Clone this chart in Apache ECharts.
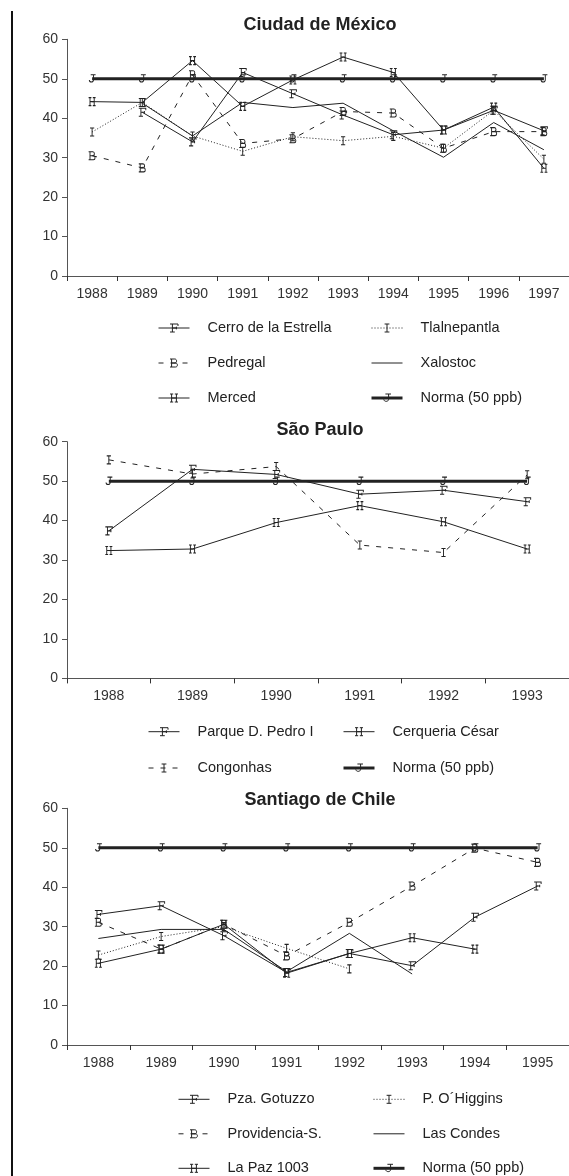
<!DOCTYPE html>
<html><head><meta charset="utf-8">
<script src="https://cdn.jsdelivr.net/npm/echarts@6/dist/echarts.min.js"></script>
<style>html,body{margin:0;padding:0;background:#fff}#c{width:569px;height:1176px}</style>
</head><body><div id="c"></div>
<script>
// ---------- data ----------
const titles = ['Ciudad de México', 'São Paulo', 'Santiago de Chile'];
const yearsMX = ['1988','1989','1990','1991','1992','1993','1994','1995','1996','1997'];
const yearsSP = ['1988','1989','1990','1991','1992','1993'];
const yearsSC = ['1988','1989','1990','1991','1992','1993','1994','1995'];
const yTicks = [0, 10, 20, 30, 40, 50, 60];

const mxCerro  = [null, 41.5, 34.0, 51.6, 46.2, 40.8, 35.8, 37.0, 42.0, 36.8];
const mxTlal   = [36.5, 44.0, 35.5, 31.6, 35.3, 34.3, 35.4, 32.4, 42.0, 29.6];
const mxPedr   = [30.5, 27.4, 51.0, 33.6, 34.8, 41.7, 41.3, 32.4, 36.6, 36.6];
const mxXalo   = [null, 43.8, 35.5, 44.0, 42.7, 43.8, 36.8, 30.1, 38.9, 32.0];
const mxMerced = [44.2, 44.0, 54.6, 43.0, 49.7, 55.5, 51.6, 37.0, 42.8, 27.3];
const mxNorma  = [50, 50, 50, 50, 50, 50, 50, 50, 50, 50];

const spParque = [37.4, 53.0, 51.7, 46.7, 47.7, 44.8];
const spCerq   = [32.4, 32.8, 39.5, 43.8, 39.7, 32.8];
const spCong   = [55.4, 51.8, 53.7, 33.8, 31.9, 51.6];
const spNorma  = [50, 50, 50, 50, 50, 50];

const scGotuzzo = [33.1, 35.3, 27.7, 18.4, 23.2, 20.1, 32.4, 40.3];
const scOHiggins = [22.8, 27.5, 30.0, 24.5, 19.3, null, null, null];
const scProv    = [31.1, 24.3, 30.6, 22.6, 31.1, 40.3, 49.9, 46.3];
const scCondes  = [27.0, 29.3, 29.3, 18.6, 28.3, 18.0, null, null];
const scLaPaz   = [20.7, 24.3, 30.6, 18.2, 23.2, 27.2, 24.3, null];
const scNorma   = [50, 50, 50, 50, 50, 50, 50, 50];

// ---------- letter markers ----------
const LET = {
  F: 'path://M0,0 M10,12 M0,0 L10,0 L10,3 M3,0 L3,12 M0,12 L6,12 M3,6 L8,6 M8,4 L8,8',
  H: 'path://M0,0 M10,12 M0,0 L4,0 M6,0 L10,0 M2,0 L2,12 M8,0 L8,12 M2,6 L8,6 M0,12 L4,12 M6,12 L10,12',
  I: 'path://M0,0 M10,12 M2,0 L8,0 M5,0 L5,12 M2,12 L8,12',
  B: 'path://M0,0 M10,12 M0,0 L6,0 C9,0 9,6 6,6 M2,6 L7,6 C10,6 10,12 7,12 L0,12 M2,0 L2,12',
  J: 'path://M0,0 M10,12 M3,0 L10,0 M7,0 L7,8 C7,12 1,12 1,8'
};
const FONT = "'Liberation Sans', Arial, sans-serif";
const INK = '#222';
const DASH = [5, 7];
const DOT = [1, 2];

function ser(name, data, g, letter, type, width, z) {
  return {
    type: 'line', name, data, xAxisIndex: g, yAxisIndex: g,
    symbol: LET[letter || 'I'], showSymbol: !!letter, symbolSize: [7, 8],
    itemStyle: { color: 'rgba(0,0,0,0)', borderColor: letter ? INK : 'rgba(0,0,0,0)', borderWidth: 1 },
    lineStyle: { color: INK, width: width, type: type },
    connectNulls: false, silent: true, animation: false, z: z || 2,
    emphasis: { disabled: true }
  };
}

const series = [
  ser('Norma (50 ppb)', mxNorma, 0, 'J', 'solid', 3, 1),
  ser('Cerro de la Estrella', mxCerro, 0, 'F', 'solid', 1),
  ser('Tlalnepantla', mxTlal, 0, 'I', DOT, 1),
  ser('Pedregal', mxPedr, 0, 'B', DASH, 1),
  ser('Xalostoc', mxXalo, 0, null, 'solid', 1),
  ser('Merced', mxMerced, 0, 'H', 'solid', 1),

  ser('Norma (50 ppb)', spNorma, 1, 'J', 'solid', 3, 1),
  ser('Parque D. Pedro I', spParque, 1, 'F', 'solid', 1),
  ser('Cerqueria César', spCerq, 1, 'H', 'solid', 1),
  ser('Congonhas', spCong, 1, 'I', DASH, 1),

  ser('Norma (50 ppb)', scNorma, 2, 'J', 'solid', 3, 1),
  ser('Pza. Gotuzzo', scGotuzzo, 2, 'F', 'solid', 1),
  ser('P. O´Higgins', scOHiggins, 2, 'I', DOT, 1),
  ser('Providencia-S.', scProv, 2, 'B', DASH, 1),
  ser('Las Condes', scCondes, 2, null, 'solid', 1),
  ser('La Paz 1003', scLaPaz, 2, 'H', 'solid', 1)
];

const gridTops = [39.3, 441.7, 808.3];
const grids = gridTops.map(t => ({ left: 67, top: t, width: 507, height: 236.7, containLabel: false }));
const cats = [yearsMX, yearsSP, yearsSC];

const xAxes = cats.map((c, i) => ({
  type: 'category', gridIndex: i, data: c, boundaryGap: true,
  axisLine: { lineStyle: { color: '#555', width: 1 } },
  axisTick: { show: true, length: 5, lineStyle: { color: '#333' } },
  axisLabel: { fontSize: 14, color: '#333', margin: 11, fontFamily: FONT }
}));
const yAxes = cats.map((c, i) => ({
  type: 'value', gridIndex: i, min: yTicks[0], max: yTicks[yTicks.length - 1], interval: 10,
  axisLine: { show: true, lineStyle: { color: '#555', width: 1 } },
  axisTick: { show: true, length: 5, lineStyle: { color: '#555' } },
  splitLine: { show: false },
  axisLabel: { fontSize: 14, color: '#333', margin: 9, fontFamily: FONT }
}));

const titleTops = [16, 421, 791];
const title = titles.map((t, i) => ({
  text: t, left: 320, top: titleTops[i], textAlign: 'center', padding: 0,
  textStyle: { fontSize: 18, fontWeight: 'bold', color: '#222', fontFamily: FONT }
}));

function leg(names, left, top, gap) {
  return {
    orient: 'vertical', left: left, top: top, height: 160, padding: 0, itemGap: gap,
    itemWidth: 31, itemHeight: 10, selectedMode: false,
    data: names.map(n => ({ name: n, lineStyle: { width: n.indexOf('Norma') === 0 ? 3 : 1 } })),
    itemStyle: { borderWidth: 1 },
    textStyle: { fontSize: 14.5, color: '#222', fontFamily: FONT, lineHeight: 16, padding: [0, 0, 0, 13] }
  };
}
const legend = [
  leg(['Cerro de la Estrella', 'Pedregal', 'Merced'], 158, 320, 19),
  leg(['Tlalnepantla', 'Xalostoc', 'Norma (50 ppb)'], 370, 320, 19),
  leg(['Parque D. Pedro I', 'Congonhas'], 148, 723.7, 20.3),
  leg(['Cerqueria César', 'Norma (50 ppb)'], 342, 723.7, 20.3),
  leg(['Pza. Gotuzzo', 'Providencia-S.', 'La Paz 1003'], 178, 1091.3, 18.5),
  leg(['P. O´Higgins', 'Las Condes', 'Norma (50 ppb)'], 372, 1091.3, 18.5)
];

const chart = echarts.init(document.getElementById('c'), null, { renderer: 'canvas' });
chart.setOption({
  animation: false,
  backgroundColor: '#fff',
  title, grid: grids, xAxis: xAxes, yAxis: yAxes, legend, series,
  graphic: [{ type: 'line', shape: { x1: 12, y1: 11, x2: 12, y2: 1176 }, style: { stroke: '#111', lineWidth: 2 } }]
});
</script></body></html>
